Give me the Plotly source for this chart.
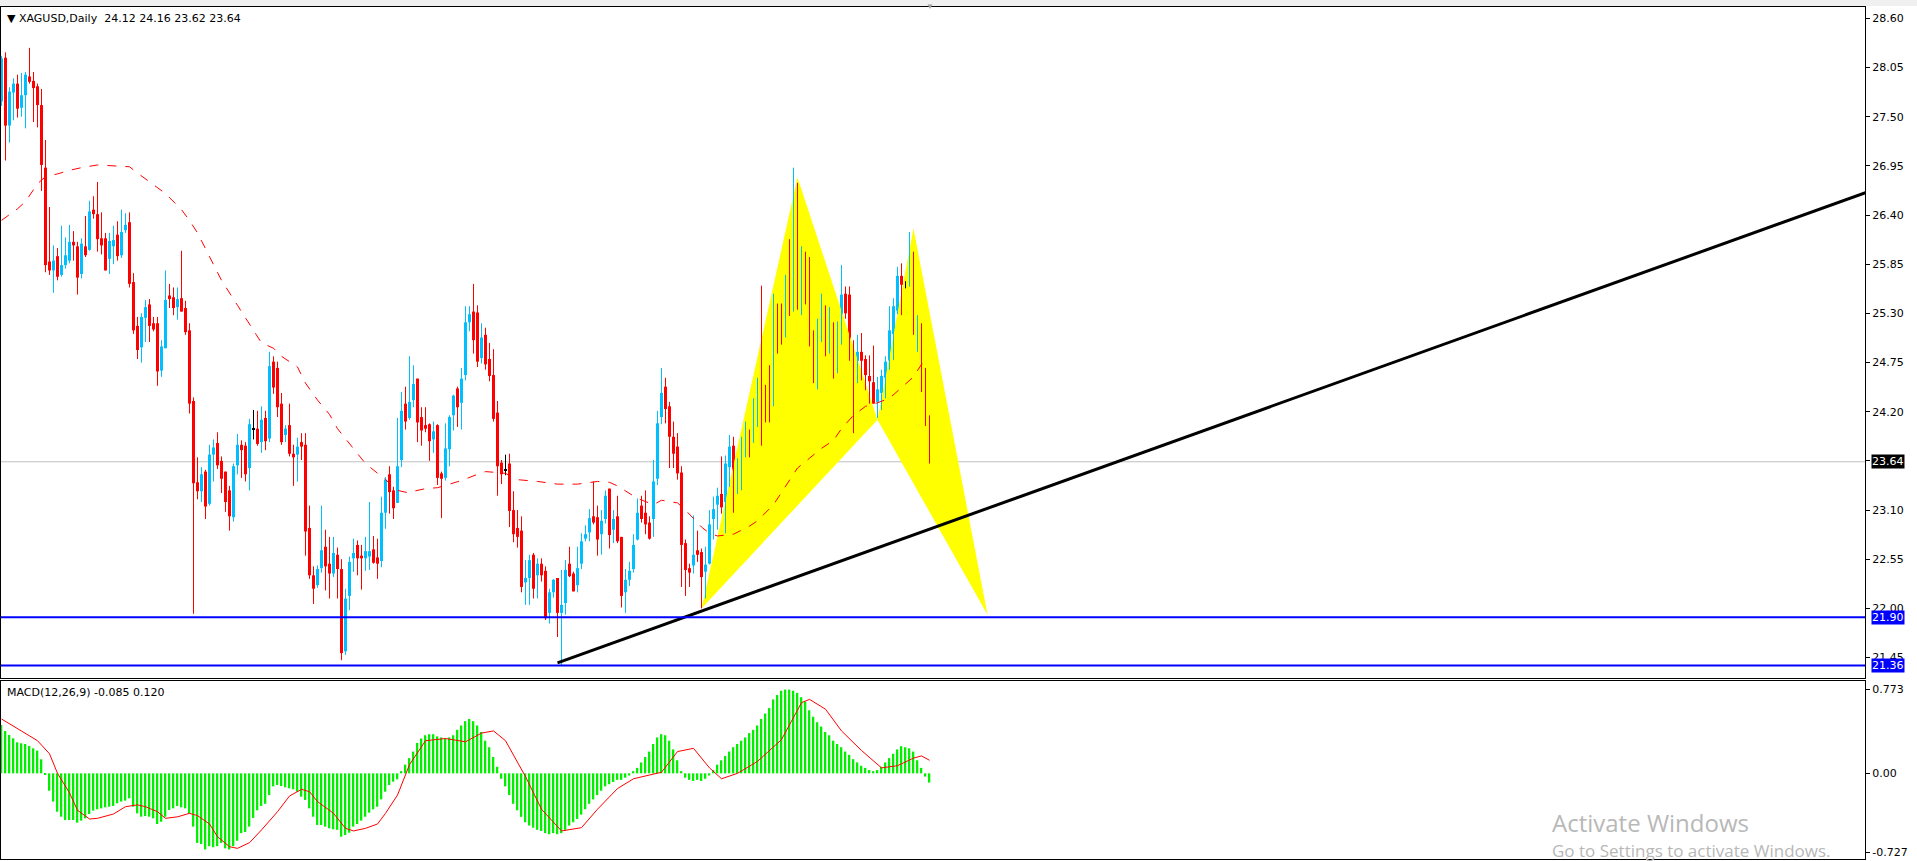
import plotly.graph_objects as go
from plotly.subplots import make_subplots

symbol = "XAGUSD,Daily"

# daily OHLC, one row per bar (oldest first)
ohlc = [
    (27.67, 28.18, 27.62, 28.15), (28.16, 28.22, 27.01, 27.40), (27.40, 27.83, 27.21, 27.78), (27.77, 27.93, 27.46, 27.87),
    (27.87, 27.97, 27.49, 27.59), (27.60, 27.99, 27.50, 27.74), (27.74, 28.00, 27.37, 27.97), (27.95, 28.27, 27.87, 27.89),
    (27.90, 28.00, 27.44, 27.82), (27.84, 27.87, 27.38, 27.63), (27.63, 27.81, 26.67, 26.96), (26.93, 27.24, 25.76, 25.84),
    (25.88, 26.49, 25.73, 25.78), (25.78, 26.06, 25.53, 25.89), (25.94, 26.03, 25.67, 25.71), (25.73, 26.28, 25.71, 25.84),
    (25.84, 26.15, 25.80, 25.95), (25.89, 26.29, 25.86, 26.10), (26.10, 26.22, 25.89, 26.06), (26.05, 26.10, 25.51, 25.70),
    (25.74, 26.14, 25.69, 26.08), (26.05, 26.39, 25.93, 25.95), (26.01, 26.56, 26.00, 26.44), (26.46, 26.61, 26.36, 26.41),
    (26.41, 26.77, 25.99, 26.13), (26.14, 26.43, 25.96, 26.06), (26.14, 26.20, 25.78, 25.78), (25.91, 26.20, 25.74, 26.11),
    (26.05, 26.28, 25.85, 26.12), (26.18, 26.33, 25.89, 25.94), (25.95, 26.46, 25.92, 26.21), (26.23, 26.42, 26.20, 26.29),
    (26.32, 26.43, 25.59, 25.63), (25.65, 25.75, 25.07, 25.11), (25.16, 25.26, 24.79, 24.89), (24.92, 25.30, 24.75, 25.26),
    (25.25, 25.45, 24.98, 25.37), (25.40, 25.46, 24.98, 25.16), (25.19, 25.26, 25.10, 25.12), (25.19, 25.26, 24.49, 24.65),
    (24.66, 25.00, 24.59, 24.93), (24.91, 25.78, 24.91, 25.45), (25.50, 25.63, 25.36, 25.46), (25.48, 25.59, 25.28, 25.36),
    (25.37, 25.59, 25.23, 25.46), (25.47, 26.00, 25.32, 25.32), (25.36, 25.44, 25.06, 25.09), (25.11, 25.19, 24.18, 24.29),
    (24.32, 24.36, 21.94, 23.40), (23.41, 23.69, 23.22, 23.31), (23.31, 23.58, 23.19, 23.50), (23.53, 23.55, 23.00, 23.14),
    (23.17, 23.83, 23.15, 23.72), (23.72, 23.89, 23.42, 23.80), (23.85, 23.97, 23.56, 23.60), (23.65, 23.70, 23.29, 23.45),
    (23.53, 23.53, 23.08, 23.19), (23.32, 23.37, 22.87, 23.03), (23.02, 23.62, 22.97, 23.59), (23.60, 23.95, 23.50, 23.83),
    (23.83, 23.88, 23.46, 23.77), (23.82, 23.86, 23.42, 23.50), (23.57, 24.12, 23.32, 24.06), (24.00, 24.22, 23.89, 24.00),
    (24.01, 24.21, 23.82, 23.84), (23.86, 24.26, 23.74, 24.11), (24.13, 24.21, 23.77, 23.87), (23.90, 24.87, 23.86, 24.71),
    (24.76, 24.82, 24.40, 24.47), (24.69, 24.76, 24.14, 24.25), (24.29, 24.41, 23.83, 23.86), (23.94, 24.05, 23.86, 24.01),
    (24.05, 24.29, 23.70, 23.73), (23.73, 23.83, 23.37, 23.69), (23.72, 23.91, 23.42, 23.81), (23.86, 23.96, 23.66, 23.81),
    (23.83, 23.96, 22.59, 22.86), (22.90, 23.15, 22.33, 22.37), (22.37, 22.47, 22.05, 22.22), (22.26, 22.48, 22.23, 22.44),
    (22.45, 23.15, 22.40, 22.65), (22.69, 22.88, 22.20, 22.47), (22.50, 22.80, 22.11, 22.39), (22.39, 22.80, 22.35, 22.62),
    (22.60, 22.68, 22.11, 22.44), (22.44, 22.55, 21.42, 21.50), (21.52, 22.22, 21.48, 22.11), (22.14, 22.58, 21.98, 22.52),
    (22.56, 22.78, 22.41, 22.62), (22.71, 22.76, 22.37, 22.56), (22.59, 22.71, 22.21, 22.56), (22.56, 22.80, 22.42, 22.64),
    (22.58, 23.19, 22.43, 22.64), (22.66, 22.81, 22.50, 22.51), (22.57, 22.78, 22.33, 22.50), (22.53, 23.25, 22.46, 23.07),
    (23.07, 23.47, 22.89, 23.44), (23.50, 23.59, 23.06, 23.30), (23.32, 23.36, 23.00, 23.12), (23.18, 24.13, 23.18, 23.59),
    (23.66, 24.42, 23.58, 24.21), (24.29, 24.48, 24.00, 24.09), (24.13, 24.82, 24.11, 24.31), (24.33, 24.72, 24.25, 24.51),
    (24.57, 24.57, 23.86, 24.08), (24.14, 24.25, 23.82, 23.99), (24.05, 24.25, 23.97, 24.01), (24.06, 24.07, 23.65, 23.87),
    (23.89, 24.09, 23.74, 23.98), (24.05, 24.06, 23.38, 23.46), (23.51, 23.53, 23.01, 23.45), (23.46, 24.07, 23.43, 23.79),
    (23.78, 24.16, 23.59, 24.14), (24.16, 24.39, 23.99, 24.38), (24.46, 24.48, 24.03, 24.25), (24.30, 24.69, 24.00, 24.57),
    (24.61, 25.38, 24.55, 25.20), (25.20, 25.38, 25.10, 25.29), (25.32, 25.63, 24.85, 25.00), (25.31, 25.39, 24.70, 24.76),
    (24.80, 25.19, 24.74, 25.03), (25.06, 25.14, 24.67, 24.73), (24.79, 24.97, 24.54, 24.60), (24.61, 24.90, 24.09, 24.12),
    (24.19, 24.32, 23.26, 23.59), (23.63, 23.66, 23.39, 23.50), (23.54, 23.72, 23.49, 23.54), (23.62, 23.73, 22.91, 23.09),
    (23.10, 23.31, 22.74, 22.83), (22.90, 23.10, 22.68, 22.80), (22.87, 23.03, 22.18, 22.24), (22.29, 22.54, 22.04, 22.34),
    (22.34, 22.60, 22.04, 22.54), (22.60, 22.62, 22.11, 22.22), (22.37, 22.56, 22.11, 22.50), (22.50, 22.56, 22.30, 22.37),
    (22.42, 22.47, 21.87, 21.89), (21.95, 22.22, 21.83, 22.18), (22.18, 22.33, 22.12, 22.32), (22.34, 22.34, 21.68, 21.95),
    (21.95, 22.43, 21.36, 22.04), (22.06, 22.54, 21.93, 22.43), (22.50, 22.69, 22.35, 22.36), (22.39, 22.41, 22.19, 22.19),
    (22.26, 22.69, 22.18, 22.45), (22.50, 22.84, 22.44, 22.75), (22.78, 22.93, 22.75, 22.83), (22.85, 23.11, 22.75, 23.01),
    (23.03, 23.42, 22.94, 22.96), (23.02, 23.15, 22.59, 22.77), (22.83, 23.10, 22.60, 22.98), (23.00, 23.32, 22.95, 23.26),
    (23.34, 23.34, 22.67, 22.82), (22.88, 23.10, 22.73, 23.00), (23.03, 23.26, 22.73, 22.75), (22.80, 22.80, 22.01, 22.14),
    (22.18, 22.44, 21.95, 22.32), (22.32, 22.52, 22.25, 22.42), (22.44, 22.83, 22.40, 22.71), (22.77, 23.23, 22.76, 23.07),
    (23.15, 23.26, 22.96, 23.00), (23.07, 23.32, 22.83, 22.94), (22.96, 23.03, 22.77, 22.78), (23.00, 23.66, 22.80, 23.42),
    (23.45, 24.21, 23.38, 24.07), (24.14, 24.69, 24.06, 24.41), (24.48, 24.58, 24.07, 24.23), (24.26, 24.31, 23.57, 23.92),
    (23.92, 24.09, 23.57, 23.73), (23.81, 23.96, 23.44, 23.51), (23.52, 23.59, 22.24, 22.71), (22.73, 22.77, 22.14, 22.43),
    (22.45, 22.50, 22.24, 22.40), (22.48, 23.04, 22.39, 22.60), (22.65, 22.87, 22.52, 22.60), (22.63, 22.67, 22.00, 22.35),
    (22.41, 22.69, 22.11, 22.49), (22.50, 23.10, 22.49, 22.94), (23.00, 23.25, 22.77, 23.11), (23.16, 23.35, 22.88, 23.26),
    (23.28, 23.70, 23.06, 23.13), (23.19, 23.71, 22.84, 23.62), (23.58, 23.94, 23.36, 23.81), (23.82, 23.92, 23.07, 23.29),
    (23.37, 23.68, 23.28, 23.54), (23.50, 23.92, 23.32, 23.76), (23.83, 24.09, 23.69, 23.96), (23.96, 24.00, 23.69, 23.92),
    (24.00, 24.35, 23.85, 24.03), (24.11, 24.58, 24.03, 24.51), (24.54, 25.61, 23.82, 24.17), (24.24, 24.50, 24.08, 24.18),
    (24.62, 24.72, 24.08, 24.37), (24.41, 25.52, 24.26, 25.36), (25.32, 25.41, 24.85, 25.15), (25.25, 25.41, 24.95, 25.15),
    (25.15, 25.73, 25.03, 25.64), (25.85, 26.13, 25.27, 25.65), (25.59, 26.93, 25.32, 26.34), (26.35, 26.76, 25.34, 25.76),
    (25.76, 26.05, 25.28, 25.90), (25.90, 25.99, 25.40, 25.81), (25.88, 25.93, 24.93, 25.03), (25.05, 25.11, 24.52, 24.87),
    (24.93, 25.24, 24.45, 25.07), (25.06, 25.52, 24.98, 25.38), (25.37, 25.39, 24.82, 24.91), (24.93, 25.37, 24.85, 25.30),
    (25.19, 25.20, 24.57, 24.77), (24.63, 25.21, 24.63, 25.11), (25.10, 25.84, 24.95, 25.51), (25.52, 25.60, 25.24, 25.30),
    (25.51, 25.60, 24.77, 24.83), (24.87, 25.00, 23.96, 24.77), (24.77, 25.06, 24.52, 24.87), (24.87, 25.08, 24.55, 24.77),
    (24.79, 24.83, 24.44, 24.61), (24.60, 24.83, 24.29, 24.54), (24.53, 24.94, 24.29, 24.29), (24.31, 24.59, 24.13, 24.45),
    (24.41, 24.67, 24.22, 24.60), (24.58, 24.82, 24.35, 24.76), (24.77, 25.38, 24.67, 25.11), (25.07, 25.47, 24.78, 25.38),
    (25.33, 25.82, 25.29, 25.72), (25.72, 25.86, 25.28, 25.62), (25.62, 25.66, 25.58, 25.62), (25.61, 26.21, 25.60, 25.86),
    (25.82, 25.99, 25.06, 25.14), (25.16, 25.28, 24.87, 25.19), (25.18, 25.19, 24.42, 24.65), (24.66, 24.69, 24.04, 24.17),
    (24.12, 24.16, 23.62, 23.64),
]
opens = [r[0] for r in ohlc]
highs = [r[1] for r in ohlc]
lows = [r[2] for r in ohlc]
closes = [r[3] for r in ohlc]
bars = list(range(len(ohlc)))

# red dashed moving average, read at these bars
ma_bars = [0, 4, 6, 9, 11, 14, 17, 20, 24, 27, 29, 32, 34, 37, 39, 41, 45, 47, 49, 52, 55, 59, 63, 65, 68, 70, 74, 76,
           79, 82, 84, 86, 91, 96, 99, 102, 103, 106, 109, 112, 115, 119, 121, 124, 126, 129, 134, 139, 144, 149, 152,
           154, 157, 159, 163, 165, 169, 171, 175, 177, 179, 183, 187, 189, 193, 196, 199, 202, 205, 208, 210, 213,
           216, 219, 222, 225, 228, 230, 232]
ma_vals = [26.34, 26.47, 26.55, 26.75, 26.83, 26.86, 26.90, 26.93, 26.96, 26.95, 26.95, 26.94, 26.87, 26.77, 26.71,
           26.64, 26.46, 26.34, 26.20, 25.93, 25.67, 25.39, 25.11, 24.97, 24.91, 24.82, 24.70, 24.52, 24.33, 24.17,
           24.01, 23.90, 23.62, 23.44, 23.32, 23.29, 23.31, 23.34, 23.35, 23.39, 23.43, 23.50, 23.53, 23.52, 23.51,
           23.44, 23.42, 23.39, 23.39, 23.42, 23.41, 23.37, 23.28, 23.23, 23.16, 23.21, 23.18, 23.10, 22.91, 22.84,
           22.81, 22.83, 22.92, 22.98, 23.16, 23.36, 23.57, 23.68, 23.79, 23.88, 24.01, 24.16, 24.26, 24.30, 24.35,
           24.47, 24.59, 24.73, 24.76]

# MACD(12,26,9): main line drawn as histogram, signal as red line
macd_main = [
    0.445, 0.389, 0.353, 0.322, 0.285, 0.276, 0.270, 0.251, 0.230, 0.209, 0.129, -0.010, -0.160, -0.260, -0.353, -0.399,
    -0.430, -0.430, -0.430, -0.454, -0.435, -0.414, -0.374, -0.343, -0.331, -0.322, -0.313, -0.307, -0.300, -0.276,
    -0.260, -0.251, -0.230, -0.307, -0.368, -0.399, -0.393, -0.399, -0.414, -0.466, -0.445, -0.399, -0.337, -0.322,
    -0.300, -0.313, -0.322, -0.370, -0.490, -0.640, -0.650, -0.700, -0.670, -0.680, -0.670, -0.640, -0.690, -0.700,
    -0.670, -0.620, -0.550, -0.540, -0.490, -0.410, -0.340, -0.300, -0.280, -0.200, -0.120, -0.107, -0.117, -0.129,
    -0.138, -0.147, -0.169, -0.215, -0.245, -0.322, -0.399, -0.475, -0.475, -0.490, -0.506, -0.515, -0.520, -0.583,
    -0.567, -0.546, -0.490, -0.466, -0.435, -0.399, -0.362, -0.331, -0.307, -0.239, -0.169, -0.107, -0.077, -0.055,
    0.020, 0.080, 0.140, 0.200, 0.280, 0.320, 0.350, 0.360, 0.360, 0.340, 0.330, 0.320, 0.330, 0.350, 0.400, 0.440,
    0.480, 0.500, 0.480, 0.440, 0.380, 0.300, 0.240, 0.150, 0.060, -0.050, -0.120, -0.200, -0.280, -0.340, -0.400,
    -0.450, -0.480, -0.500, -0.520, -0.530, -0.550, -0.560, -0.550, -0.560, -0.550, -0.520, -0.480, -0.450, -0.420,
    -0.380, -0.330, -0.280, -0.240, -0.200, -0.160, -0.120, -0.100, -0.080, -0.060, -0.060, -0.040, -0.020, 0.020,
    0.050, 0.100, 0.150, 0.200, 0.270, 0.330, 0.360, 0.350, 0.300, 0.220, 0.120, 0.020, -0.040, -0.060, -0.070, -0.060,
    -0.070, -0.050, -0.020, 0.030, 0.080, 0.120, 0.160, 0.200, 0.240, 0.270, 0.300, 0.330, 0.370, 0.400, 0.440, 0.500,
    0.550, 0.600, 0.680, 0.720, 0.760, 0.770, 0.770, 0.760, 0.740, 0.700, 0.660, 0.580, 0.520, 0.470, 0.430, 0.380,
    0.350, 0.300, 0.270, 0.240, 0.200, 0.170, 0.130, 0.100, 0.070, 0.050, 0.030, 0.020, 0.030, 0.060, 0.100, 0.140,
    0.180, 0.220, 0.250, 0.240, 0.230, 0.200, 0.120, 0.050, -0.030, -0.085,
]
signal_bars = [0, 4, 9, 12, 14, 17, 19, 22, 24, 28, 31, 34, 36, 39, 41, 44, 47, 49, 52, 54, 57, 59, 62, 65, 69, 72,
               75, 77, 79, 83, 86, 88, 91, 94, 96, 99, 102, 106, 111, 116, 120, 123, 126, 131, 135, 140, 145, 149,
               154, 158, 165, 169, 173, 177, 180, 184, 189, 195, 200, 202, 206, 210, 215, 220, 224, 228, 230, 232]
signal_vals = [0.50, 0.414, 0.30, 0.18, 0.0, -0.18, -0.34, -0.42, -0.414, -0.374, -0.307, -0.29, -0.307, -0.353,
               -0.414, -0.40, -0.368, -0.389, -0.466, -0.583, -0.675, -0.69, -0.638, -0.521, -0.353, -0.209, -0.147,
               -0.169, -0.26, -0.368, -0.506, -0.53, -0.506, -0.466, -0.368, -0.20, 0.08, 0.30, 0.32, 0.29, 0.37,
               0.39, 0.30, -0.03, -0.33, -0.53, -0.50, -0.33, -0.14, -0.05, 0.01, 0.20, 0.23, 0.05, -0.05, 0.0, 0.11,
               0.31, 0.65, 0.68, 0.59, 0.39, 0.21, 0.05, 0.07, 0.14, 0.16, 0.12]

# harmonic pattern X, A, B, C, D
pattern_bars = [175, 199, 219, 228, 246.5]
pattern_prices = [22.00, 26.82, 24.11, 26.25, 21.93]

# trend line anchors and horizontal levels
trend_bars = [139, 466]
trend_prices = [21.39, 26.65]
levels = [21.90, 21.36]

price_ticks = [28.60, 28.05, 27.50, 26.95, 26.40, 25.85, 25.30, 24.75, 24.20, 23.65, 23.10, 22.55, 22.00, 21.45]
macd_ticks = [0.773, 0.0, -0.727]
macd_labels = ["0.773", "0.00", "-0.727"]

BULL, BEAR, DOJI = "#00BFFF", "#FF0000", "#000000"
FONT = "DejaVu Sans"
x_range = [-0.125, 465.875]

fig = make_subplots(rows=2, cols=1, shared_xaxes=True)

# yellow pattern triangles (behind candles)
x_, a_, b_, c_, d_ = range(5)
for tri in [(x_, a_, b_, x_), (b_, c_, d_, b_)]:
    fig.add_trace(go.Scatter(x=[pattern_bars[k] for k in tri], y=[pattern_prices[k] for k in tri], mode="lines",
                             fill="toself", fillcolor="#FFFF00", line=dict(width=0), hoverinfo="skip"), row=1, col=1)

colors = []
for o, c in zip(opens, closes):
    colors.append(DOJI if o == c else (BULL if c > o else BEAR))

# wicks
for col in (BULL, BEAR, DOJI):
    wx, wy = [], []
    for i in bars:
        if colors[i] == col:
            wx += [i, i, None]
            wy += [lows[i], highs[i], None]
    fig.add_trace(go.Scatter(x=wx, y=wy, mode="lines", line=dict(color=col, width=1), hoverinfo="skip"), row=1, col=1)

# bodies
fig.add_trace(go.Bar(x=bars, base=[min(o, c) for o, c in zip(opens, closes)],
                     y=[max(abs(c - o), 0.012) for o, c in zip(opens, closes)],
                     width=0.75, marker=dict(color=colors, line=dict(width=0))), row=1, col=1)

fig.add_trace(go.Scatter(x=ma_bars, y=ma_vals, mode="lines", line=dict(color="#FF0000", width=1, dash="dash")),
              row=1, col=1)
fig.add_trace(go.Scatter(x=trend_bars, y=trend_prices, mode="lines", line=dict(color="#000000", width=3)),
              row=1, col=1)

fig.add_trace(go.Bar(x=bars, y=macd_main, width=0.4, marker=dict(color="#00F000", line=dict(width=0))),
              row=2, col=1)
fig.add_trace(go.Scatter(x=signal_bars, y=signal_vals, mode="lines", line=dict(color="#FF0000", width=1)),
              row=2, col=1)

last = closes[-1]
fig.add_shape(type="line", xref="x domain", yref="y", x0=0, x1=1, y0=last, y1=last,
              line=dict(color="#C0C0C0", width=1), layer="below")
for lv in levels:
    fig.add_shape(type="line", xref="x domain", yref="y", x0=0, x1=1, y0=lv, y1=lv,
                  line=dict(color="#0000FF", width=2))

# top strip of the window
fig.add_shape(type="rect", xref="paper", yref="paper", x0=-0.01, x1=1.03, y0=1.0012, y1=1.0085,
              fillcolor="#F0F0F0", line=dict(width=0))

axis_font = dict(family=FONT, size=11, color="#000000")
fig.update_layout(
    width=1917, height=861,
    margin=dict(l=1, r=52, t=7, b=2),
    paper_bgcolor="#FFFFFF", plot_bgcolor="#FFFFFF",
    showlegend=False, barmode="overlay", hovermode=False,
    xaxis=dict(range=x_range, showticklabels=False, ticks="", showgrid=False, zeroline=False,
               showline=True, linecolor="#000000", linewidth=1, mirror=True),
    xaxis2=dict(range=x_range, showticklabels=False, ticks="", showgrid=False, zeroline=False,
                showline=True, linecolor="#000000", linewidth=1, mirror=True),
    yaxis=dict(domain=[0.2124, 1], range=[21.221, 28.727], side="right", tickvals=price_ticks,
               ticktext=[f"{t:.2f}" for t in price_ticks], ticks="outside", ticklen=4, tickcolor="#000000",
               tickfont=axis_font, showgrid=False, zeroline=False,
               showline=True, linecolor="#000000", linewidth=1, mirror=True),
    yaxis2=dict(domain=[0, 0.2089], range=[-0.788, 0.849], side="right", tickvals=macd_ticks,
                ticktext=macd_labels, ticks="outside", ticklen=4, tickcolor="#000000",
                tickfont=axis_font, showgrid=False, zeroline=False,
                showline=True, linecolor="#000000", linewidth=1, mirror=True),
)

header = f"▼ {symbol}  {opens[-1]:.2f} {highs[-1]:.2f} {lows[-1]:.2f} {closes[-1]:.2f}"
fig.add_annotation(text=header, xref="paper", yref="paper", x=0, y=1, xanchor="left", yanchor="middle",
                   xshift=4, yshift=-11, showarrow=False, font=dict(family=FONT, size=11, color="#000000"))
fig.add_annotation(text=f"MACD(12,26,9) {macd_main[-1]:.3f} {signal_vals[-1]:.3f}", xref="paper", yref="paper",
                   x=0, y=0.2089, xanchor="left", yanchor="middle", xshift=4, yshift=-11, showarrow=False,
                   font=dict(family=FONT, size=11, color="#000000"))
fig.add_annotation(text="▼", xref="x", yref="paper", x=bars[-1], y=1.0, yanchor="middle", yshift=2,
                   showarrow=False, font=dict(size=8, color="#A0A0A0"))

# price boxes on the right scale
for val, bg in [(last, "#000000")] + [(lv, "#0000FF") for lv in levels]:
    fig.add_annotation(text=f"{val:.2f}", xref="paper", yref="y", x=1, y=val, xanchor="left", yanchor="middle",
                       xshift=6, showarrow=False, bgcolor=bg, borderpad=0,
                       font=dict(family=FONT, size=11, color="#FFFFFF"))

# windows watermark captured in the screenshot
fig.add_annotation(text="Activate Windows", xref="paper", yref="paper", x=0.831, y=0.043, xanchor="left",
                   yanchor="middle", showarrow=False, font=dict(family="Open Sans", size=24, color="#B8B8B8"))
fig.add_annotation(text="Go to Settings to activate Windows.", xref="paper", yref="paper", x=0.831, y=0.01,
                   xanchor="left", yanchor="middle", showarrow=False,
                   font=dict(family="Open Sans", size=17, color="#B8B8B8"))

# page body has a default margin; drop it so the figure fills the window like the screenshot
fig.write_html("out.html", config={"displayModeBar": False},
               post_script="document.body.style.margin='0';")
